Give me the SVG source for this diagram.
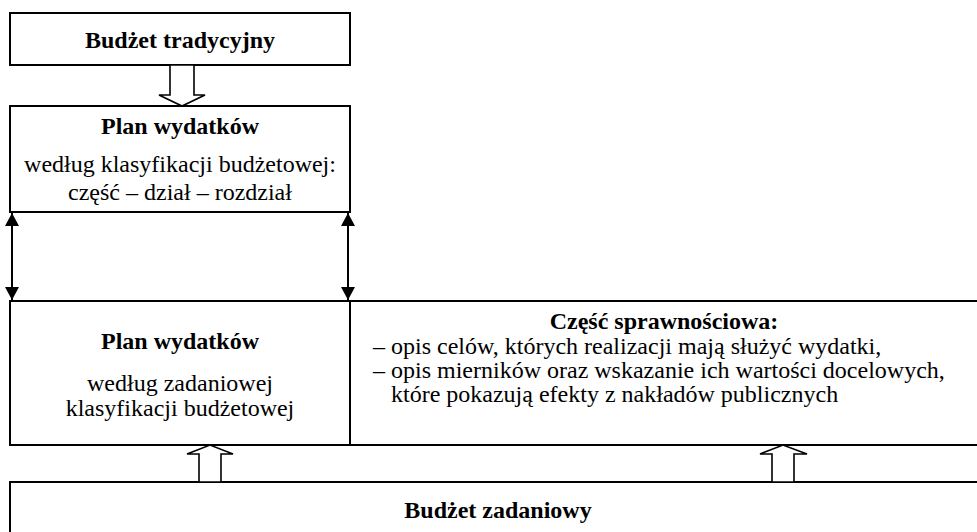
<svg xmlns="http://www.w3.org/2000/svg" width="977" height="532" viewBox="0 0 977 532" font-family="'Liberation Serif', 'Times New Roman', serif">
<defs>
<style>
.box{fill:#fff;stroke:#000;stroke-width:2}
text{font-family:"Liberation Serif","Times New Roman",serif;font-size:24px;fill:#000}
.b{font-weight:bold}
.c{text-anchor:middle}
.ha{fill:#fff;stroke:#000;stroke-width:1.6;stroke-linejoin:miter}
.ln{stroke:#000;stroke-width:2;fill:none}
</style>
<marker id="ah" viewBox="0 0 13 14" refX="13" refY="7" markerWidth="13" markerHeight="14" markerUnits="userSpaceOnUse" orient="auto-start-reverse">
<path d="M0,0 L13,7 L0,14 Z" fill="#000"/>
</marker>
</defs>
<rect width="977" height="532" fill="#fff"/>
<g id="budzet-tradycyjny">
<rect class="box" x="10" y="13" width="340" height="52"/>
<text class="b c" x="180" y="48">Budżet tradycyjny</text>
</g>
<g id="plan-tradycyjny">
<rect class="box" x="10" y="106" width="340" height="106"/>
<text class="b c" x="180" y="134">Plan wydatków</text>
<text class="c" x="180" y="172">według klasyfikacji budżetowej:</text>
<text class="c" x="180" y="200">część – dział – rozdział</text>
</g>
<g id="plan-zadaniowy">
<rect class="box" x="10" y="301" width="340" height="144"/>
<text class="b c" x="180" y="349">Plan wydatków</text>
<text class="c" x="180" y="391">według zadaniowej</text>
<text class="c" x="180" y="416">klasyfikacji budżetowej</text>
</g>
<g id="czesc-sprawnosciowa">
<rect class="box" x="350" y="301" width="640" height="144"/>
<text class="b c" x="664" y="329">Część sprawnościowa:</text>
<text x="373" y="354">–</text>
<text x="391" y="354">opis celów, których realizacji mają służyć wydatki,</text>
<text x="373" y="378">–</text>
<text x="391" y="378">opis mierników oraz wskazanie ich wartości docelowych,</text>
<text x="391" y="402">które pokazują efekty z nakładów publicznych</text>
</g>
<g id="budzet-zadaniowy">
<rect class="box" x="10" y="482" width="980" height="60"/>
<text class="b c" x="498" y="518">Budżet zadaniowy</text>
</g>
<g id="connectors">
<path class="ha" d="M170,65 L194,65 L194,95 L205,95 L182,106 L159,95 L170,95 Z"/>
<line class="ln" x1="12" y1="213" x2="12" y2="300" marker-start="url(#ah)" marker-end="url(#ah)"/>
<line class="ln" x1="348" y1="213" x2="348" y2="300" marker-start="url(#ah)" marker-end="url(#ah)"/>
<path class="ha" d="M199,482 L221,482 L221,454 L233,454 L210,445 L187,454 L199,454 Z"/>
<path class="ha" d="M772,482 L794,482 L794,454 L807,454 L783,445 L760,454 L772,454 Z"/>
</g>
</svg>
